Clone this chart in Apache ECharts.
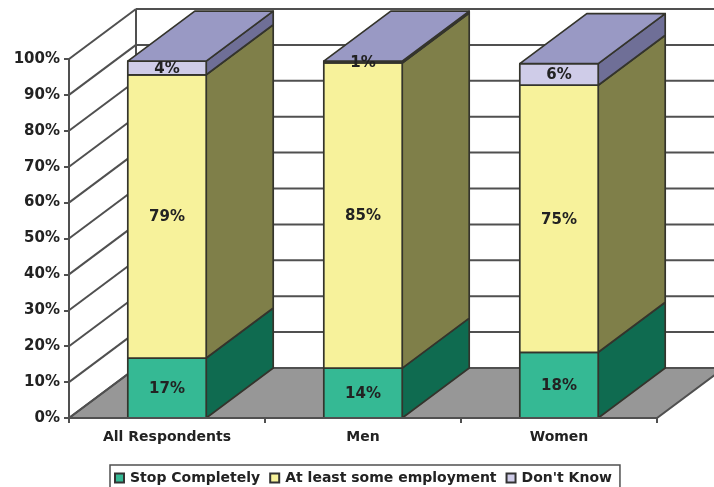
<!DOCTYPE html>
<html><head><meta charset="utf-8">
<style>html,body{margin:0;padding:0;background:#fff;overflow:hidden}#c{width:714px;height:487px;filter:blur(0.5px)}</style>
<script src="https://cdn.jsdelivr.net/npm/echarts@6/dist/echarts.min.js"></script>
</head><body><div id="c"></div>
<script>
var categories = ['All Respondents', 'Men', 'Women'];
var stopCompletely = [16.7, 13.9, 18.3];
var someEmployment = [78.9, 85.0, 74.4];
var dontKnow = [3.8, 0.5, 6.0];
var stopLabels = ['17%', '14%', '18%'];
var someLabels = ['79%', '85%', '75%'];
var dontKnowLabels = ['4%', '1%', '6%'];
var yTicks = [0, 10, 20, 30, 40, 50, 60, 70, 80, 90, 100];

var DX = 67, DY = -50, LINE = '#34342c';
var FONT = 'bold 15px "DejaVu Sans"';

function stackSeries(name, values, bases, labels, front, side, top) {
  return {
    name: name, type: 'custom', coordinateSystem: 'cartesian2d', z: 5,
    itemStyle: {color: front, borderColor: '#333', borderWidth: 1.2},
    encode: {x: 0, y: [1, 2]},
    data: values.map(function (v, i) { return [i, bases[i], bases[i] + v, labels[i]]; }),
    renderItem: function (params, api) {
      var c = api.value(0), y0 = api.value(1), y1 = api.value(2);
      var w = api.size([1, 0])[0] * 0.4;
      var a = api.coord([c, y0]), b = api.coord([c, y1]);
      var l = a[0] - w / 2, r = a[0] + w / 2, yb = a[1], yt = b[1];
      var st = {stroke: LINE, lineWidth: 1.7, lineJoin: 'round'};
      function poly(pts, fill) {
        return {type: 'polygon', shape: {points: pts}, style: Object.assign({fill: fill}, st)};
      }
      var kids = [
        poly([[r, yb], [r + DX, yb + DY], [r + DX, yt + DY], [r, yt]], side),
        poly([[l, yb], [r, yb], [r, yt], [l, yt]], front)
      ];
      if (top) kids.push(poly([[l, yt], [l + DX, yt + DY], [r + DX, yt + DY], [r, yt]], top));
      kids.push({type: 'text', style: {
        text: api.value(3), x: a[0], y: (yb + yt) / 2 + 1, align: 'center', verticalAlign: 'middle',
        font: FONT, fill: '#222'
      }, z2: 10});
      return {type: 'group', children: kids};
    }
  };
}

var baseSome = stopCompletely;
var baseDk = stopCompletely.map(function (v, i) { return v + someEmployment[i]; });

var frame = {
  type: 'custom', coordinateSystem: 'cartesian2d', z: 1, silent: true, legendHoverLink: false,
  data: yTicks.map(function (t) { return [0, t]; }),
  encode: {x: 0, y: 1},
  renderItem: function (params, api) {
    var t = api.value(1), g = params.coordSys, y = api.coord([0, t])[1];
    var x0 = g.x, x1 = g.x + g.width, kids = [];
    var ln = {stroke: '#505050', lineWidth: 2};
    if (t === 0) {
      kids.push({type: 'polygon', shape: {points: [[x0, y], [x0 + DX, y + DY], [x1 + DX, y + DY], [x1, y]]},
        style: {fill: '#979797', stroke: '#505050', lineWidth: 2}});
      kids.push({type: 'line', shape: {x1: x0 + DX, y1: g.y + DY, x2: x0 + DX, y2: y + DY}, style: ln});
    } else {
      kids.push({type: 'line', shape: {x1: x0 + DX, y1: y + DY, x2: x1 + DX, y2: y + DY}, style: ln});
    }
    kids.push({type: 'line', shape: {x1: x0, y1: y, x2: x0 + DX, y2: y + DY}, style: ln});
    return {type: 'group', children: kids};
  }
};

var chart = echarts.init(document.getElementById('c'));
chart.setOption({
  animation: false,
  backgroundColor: '#fff',
  grid: {left: 69, right: 57, top: 59, height: 359},
  legend: {
    left: 110, top: 465, padding: [6, 8, 3, 4], itemGap: 9,
    itemWidth: 9, itemHeight: 9, icon: 'rect',
    borderColor: '#505050', borderWidth: 1.5,
    textStyle: {fontFamily: 'DejaVu Sans', fontWeight: 'bold', fontSize: 14, color: '#222', padding: [0, 0, 0, 1]},
    data: ['Stop Completely', 'At least some employment', "Don't Know"]
  },
  xAxis: {
    type: 'category', data: categories, z: 6,
    axisLine: {lineStyle: {color: '#505050', width: 2}},
    axisTick: {show: true, length: 5, alignWithLabel: false, lineStyle: {color: '#505050', width: 2}},
    axisLabel: {margin: 12, color: '#222', fontFamily: 'DejaVu Sans', fontWeight: 'bold', fontSize: 14}
  },
  yAxis: {
    type: 'value', min: 0, max: 100, interval: 10, z: 6,
    splitLine: {show: false},
    axisLine: {show: true, lineStyle: {color: '#505050', width: 2}},
    axisTick: {show: true, length: 5, lineStyle: {color: '#505050', width: 2}},
    axisLabel: {margin: 9, formatter: '{value}%', color: '#222', fontFamily: 'DejaVu Sans', fontWeight: 'bold', fontSize: 15}
  },
  series: [
    frame,
    stackSeries('Stop Completely', stopCompletely, [0, 0, 0], stopLabels, '#35b994', '#0f6b50'),
    stackSeries('At least some employment', someEmployment, baseSome, someLabels, '#f7f29b', '#7f7f49'),
    stackSeries("Don't Know", dontKnow, baseDk, dontKnowLabels, '#cfcce8', '#6f6f97', '#9999c4')
  ]
});
</script></body></html>
